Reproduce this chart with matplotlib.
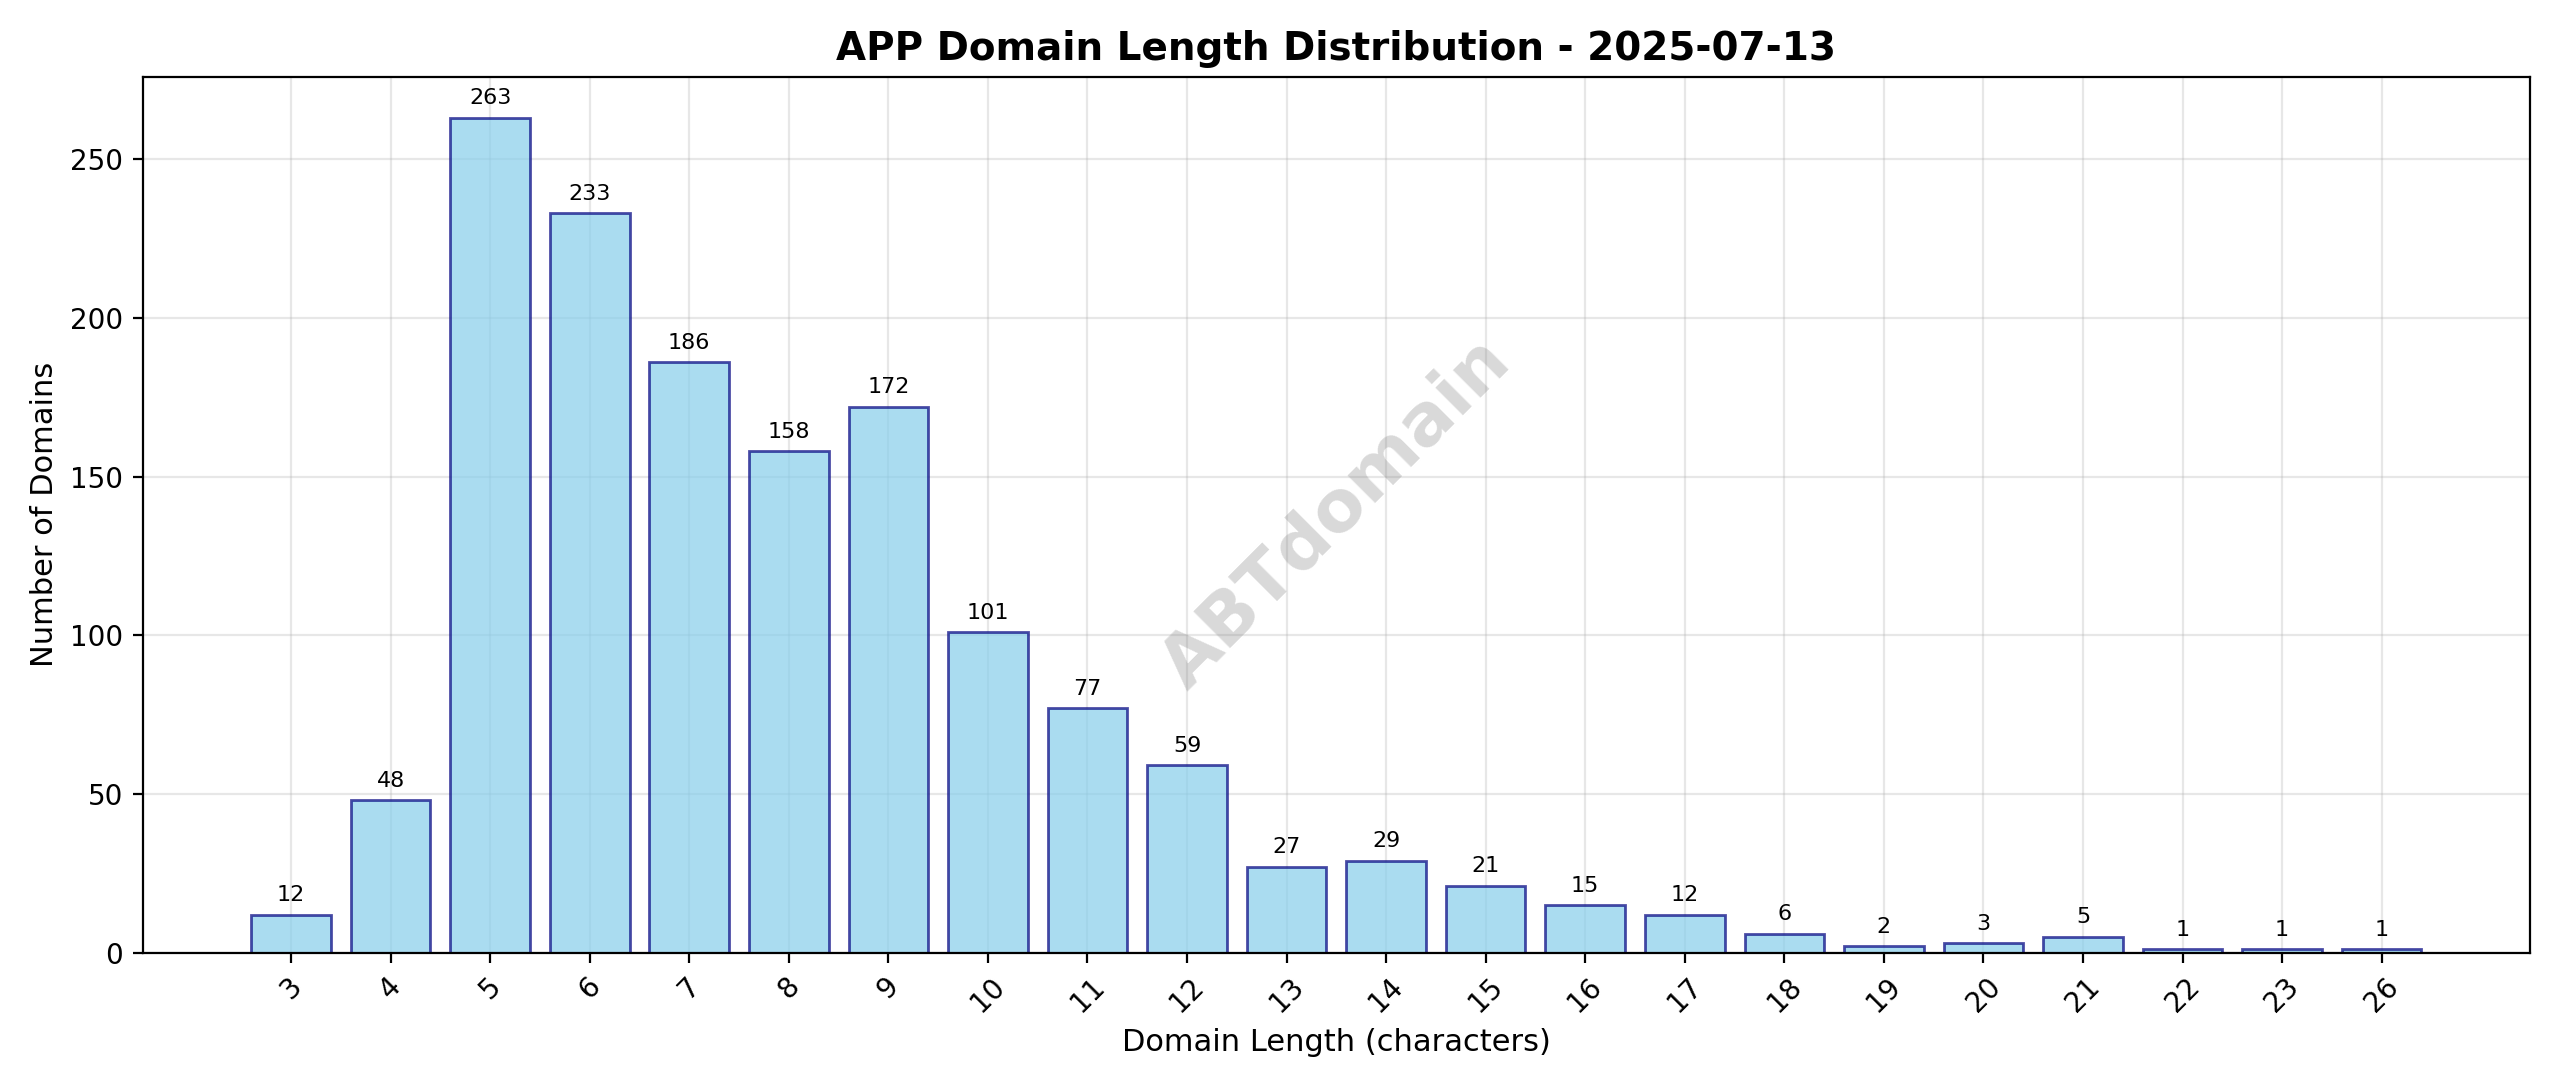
import matplotlib.pyplot as plt

lengths = ["3", "4", "5", "6", "7", "8", "9", "10", "11", "12", "13",
           "14", "15", "16", "17", "18", "19", "20", "21", "22", "23", "26"]
counts = [12, 48, 263, 233, 186, 158, 172, 101, 77, 59, 27,
          29, 21, 15, 12, 6, 2, 3, 5, 1, 1, 1]

fig, ax = plt.subplots(figsize=(12.8, 5.435), dpi=200)
x = range(len(lengths))
bars = ax.bar(x, counts, color="skyblue", edgecolor="navy", alpha=0.7, linewidth=1)

for b, v in zip(bars, counts):
    ax.text(b.get_x() + b.get_width() / 2, v + 3, str(v),
            ha="center", va="bottom", fontsize=8)

ax.set_xticks(list(x))
ax.set_xticklabels(lengths, rotation=45)
ax.set_xlabel("Domain Length (characters)", fontsize=11)
ax.set_ylabel("Number of Domains", fontsize=11)
ax.set_title("APP Domain Length Distribution - 2025-07-13", fontsize=14, fontweight="bold")
ax.grid(True, alpha=0.3)
ax.set_axisbelow(True)
ax.set_ylim(0, 276)

ax.text(0.5, 0.5, "ABTdomain", transform=ax.transAxes, fontsize=26,
        color="gray", alpha=0.3, fontweight="bold", rotation=45,
        ha="center", va="center")

plt.tight_layout()
plt.savefig("out.png", dpi=200)
